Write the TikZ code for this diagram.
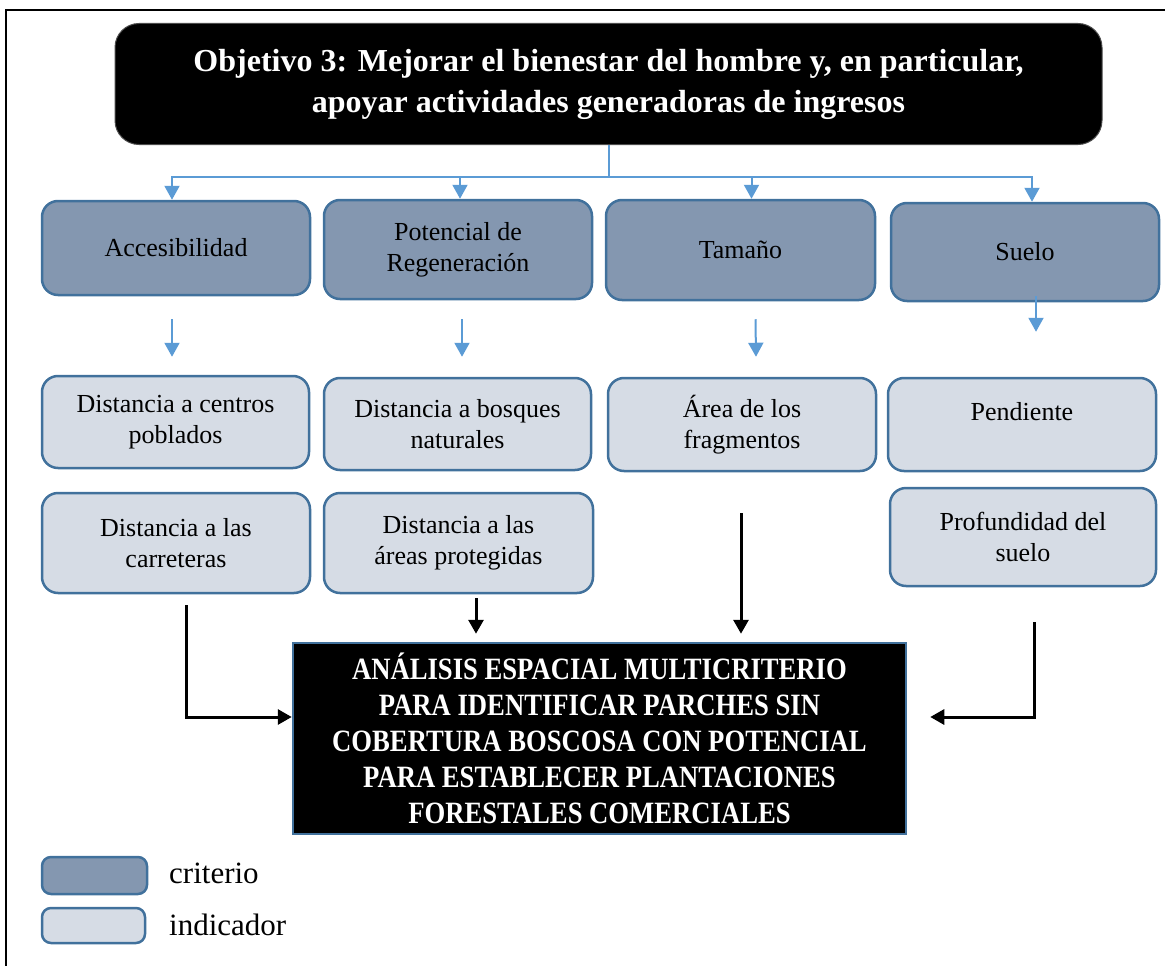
\documentclass[tikz,border=0pt]{standalone}
\usepackage{fontspec}
\setmainfont{Liberation Serif}
\usetikzlibrary{calc,arrows.meta}
\definecolor{critfill}{HTML}{8497B0}
\definecolor{indfill}{HTML}{D6DCE5}
\definecolor{edgeblue}{HTML}{41719C}
\definecolor{linkblue}{HTML}{5B9BD5}
\begin{document}
\begin{tikzpicture}[x=1pt,y=-1pt,
  boxsize/.style 2 args={minimum width=#1pt,minimum height=#2pt},
  basebox/.style={draw=edgeblue,line width=2.5pt,rounded corners=16pt,inner sep=0pt,
    align=center,text=black,font=\fontsize{26}{31}\selectfont},
  critbox/.style={basebox,fill=critfill},
  indbox/.style={basebox,fill=indfill},
  titlebox/.style={fill=black,draw=black!70,line width=1pt,rounded corners=24pt,inner sep=0pt,
    align=center,text=white,font=\bfseries\fontsize{32}{41}\selectfont},
  mainbox/.style={fill=black,draw=edgeblue,line width=2.5pt,inner sep=0pt,
    align=center,text=white,font=\bfseries\fontsize{31}{36}\selectfont},
  bluelink/.style={draw=linkblue,line width=2pt},
  bluearrow/.style={bluelink,-{Triangle[width=15pt,length=14pt]}},
  blackarrow/.style={draw=black,line width=3pt,-{Triangle[width=15pt,length=14pt]}},
  legendtext/.style={anchor=west,inner sep=0pt,font=\fontsize{31}{36}\selectfont}]
\useasboundingbox (0,0) rectangle (1165,966);

% outer frame (top and left edges)
\draw[line width=2.2pt] (6,966) -- (6,10) -- (1165,10);

% objective
\node[titlebox,boxsize={987}{121}] (title) at (608.5,84)
  {Objetivo 3: Mejorar el bienestar del hombre y, en particular,\\apoyar actividades generadoras de ingresos};

% criteria
\node[critbox,boxsize={268}{94}]  (acc) at (176,248)   {Accesibilidad};
\node[critbox,boxsize={268}{99}]  (pot) at (458,249.5) {Potencial de\\Regeneración};
\node[critbox,boxsize={269}{100}] (tam) at (740.5,250) {Tamaño};
\node[critbox,boxsize={268}{98}]  (sue) at (1025,252)  {Suelo};

% indicators
\node[indbox,boxsize={267}{92}]  (dcp) at (175.5,422) {Distancia a centros\\poblados};
\node[indbox,boxsize={267}{92}]  (dbn) at (457.5,424) {Distancia a bosques\\naturales};
\node[indbox,boxsize={268}{93}]  (afr) at (742,424.5)  {Área de los\\fragmentos};
\node[indbox,boxsize={268}{93}]  (pen) at (1022,424.5) {Pendiente\\[-14pt]\strut};
\node[indbox,boxsize={268}{100}] (dlc) at (176,543)    {Distancia a las\\carreteras};
\node[indbox,boxsize={269}{100}] (dap) at (458.5,543)  {Distancia a las\\áreas protegidas};
\node[indbox,boxsize={266}{98}]  (pro) at (1023,537)   {Profundidad del\\suelo};

% analysis (condensed capitals, set a little low in the box)
\node[mainbox,boxsize={613}{191}] (main) at (599.5,738.5)
  {\raisebox{-5pt}[\height][\depth]{\scalebox{0.86}[1]{\begin{tabular}{@{}c@{}}ANÁLISIS ESPACIAL MULTICRITERIO\\PARA IDENTIFICAR PARCHES SIN\\COBERTURA BOSCOSA CON POTENCIAL\\PARA ESTABLECER PLANTACIONES\\FORESTALES COMERCIALES\end{tabular}}}};

% objective -> criteria
\coordinate (hub) at (608.5,177);
\draw[bluelink] (title.south) -- (hub);
\draw[bluearrow] (hub) -| ($(acc.north)+(-4,0)$);
\draw[bluearrow] (hub) -| ($(pot.north)+(2,0)$);
\draw[bluearrow] (hub) -| ($(tam.north)+(11,0)$);
\draw[bluearrow] (hub) -| ($(sue.north)+(7,0)$);

% criteria -> indicators
\draw[bluearrow] ($(acc.south)+(-4,23)$) -- ($(dcp.north)+(-3.5,-18)$);
\draw[bluearrow] ($(pot.south)+(4,19)$) -- ($(dbn.north)+(4.5,-20)$);
\draw[bluearrow] ($(tam.south)+(15,18)$) -- ($(afr.north)+(14,-20)$);
\draw[bluearrow] ($(sue.south)+(11,-6)$) -- ($(pen.north)+(14,-45)$);

% indicators -> analysis
\draw[blackarrow] ($(dlc.south)+(10,11)$) |- ($(main.west)+(0,-21.5)$);
\draw[blackarrow] ($(dap.south)+(17.5,4)$) -- ($(main.north)+(-123.5,-8)$);
\draw[blackarrow] ($(afr.south)+(-1,41)$) -- ($(main.north)+(141.5,-8)$);
\draw[blackarrow] ($(pro.south)+(11,35)$) |- ($(main.east)+(23,-21.5)$);

% legend
\node[critbox,boxsize={105}{37},rounded corners=9pt] (legcrit) at (94.5,875.5) {};
\node[legendtext] (legcritt) at (169,873) {criterio};
\node[indbox,boxsize={103}{35},rounded corners=9pt] (legind) at (93.5,925.5) {};
\node[legendtext] (legindt) at (169,925) {indicador};
\end{tikzpicture}
\end{document}
